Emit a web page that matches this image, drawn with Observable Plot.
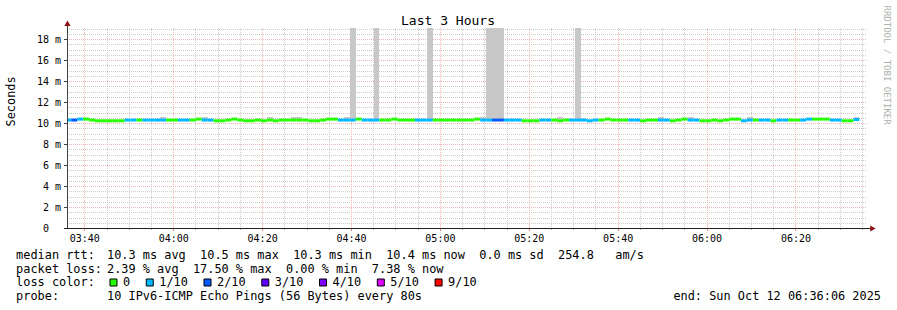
<!DOCTYPE html>
<html><head><meta charset="utf-8">
<script src="https://cdn.jsdelivr.net/npm/d3@7"></script>
<script src="https://cdn.jsdelivr.net/npm/@observablehq/plot@0.6"></script>
<style>
html,body{margin:0;padding:0;background:#fff;}
svg text{white-space:pre;}
</style></head><body><div id="chart"></div>
<script>
// ---- data ----
const titleText = "Last 3 Hours";
const xTickLabels = ["03:40","04:00","04:20","04:40","05:00","05:20","05:40","06:00","06:20"];
const yTicks = [0,2,4,6,8,10,12,14,16,18];
const lossCounts = [0,1,2,3,4,5,9];
const lossLabels = ["0","1/10","2/10","3/10","4/10","5/10","9/10"];
const lossColors = ["#26ff00","#00b8ff","#0059ff","#5e00ff","#7e00ff","#dd00ff","#ff0000"];
// loss per 80 s step (pings lost out of 10)
const lossLevel = [
 1,2,1,0,0,0,0,0,0,0,
 1,1,0,1,1,1,1,0,0,1,
 1,0,0,1,1,0,0,0,0,0,
 0,0,0,0,0,0,0,0,0,0,
 0,0,0,0,0,0,1,1,1,0,
 1,1,1,0,0,0,0,0,0,1,
 1,1,0,0,0,0,0,0,0,0,
 1,1,2,2,1,1,1,0,0,0,
 1,1,0,0,0,1,1,1,1,1,
 0,0,0,0,0,1,1,0,0,0,
 1,1,0,0,0,1,1,0,0,0,
 0,0,0,0,1,1,0,1,1,0,
 1,1,0,0,1,1,0,0,0,1,
 1,0,0,1];
// median rtt per step, ms
const medianRtt = [
 10.33,10.33,10.42,10.42,10.33,10.26,10.26,10.26,10.26,10.26,
 10.33,10.33,10.33,10.33,10.33,10.33,10.33,10.33,10.33,10.33,
 10.33,10.33,10.42,10.33,10.33,10.26,10.26,10.33,10.42,10.33,
 10.26,10.26,10.33,10.26,10.33,10.26,10.33,10.33,10.33,10.33,
 10.33,10.26,10.26,10.33,10.42,10.42,10.33,10.33,10.33,10.42,
 10.33,10.33,10.33,10.33,10.33,10.42,10.33,10.33,10.33,10.33,
 10.33,10.33,10.33,10.33,10.33,10.33,10.33,10.33,10.33,10.42,
 10.33,10.33,10.33,10.33,10.33,10.33,10.33,10.26,10.26,10.26,
 10.33,10.33,10.33,10.26,10.33,10.33,10.33,10.33,10.26,10.33,
 10.33,10.42,10.33,10.33,10.33,10.33,10.33,10.26,10.33,10.33,
 10.33,10.33,10.26,10.33,10.42,10.33,10.33,10.26,10.26,10.33,
 10.26,10.33,10.42,10.42,10.26,10.33,10.33,10.33,10.33,10.26,
 10.33,10.33,10.33,10.33,10.33,10.42,10.42,10.42,10.42,10.33,
 10.33,10.26,10.26,10.38];
// smoke (max ping rtt) where it shows above the median
const smokeSteps = [16,23,34,38,39,47,48,52,61,70,71,72,73,83,86,100,105,115,133];
const smokeMax   = [10.62,10.62,10.62,10.62,10.62,10.6,40,40,40,10.62,40,40,40,10.6,40,10.6,10.6,10.6,10.6];
const rttStats = "10.3 ms avg  10.5 ms max  10.3 ms min  10.4 ms now  0.0 ms sd  254.8   am/s";
const lossStats = "2.39 % avg  17.50 % max  0.00 % min  7.38 % now";
const probeText = "10 IPv6-ICMP Echo Pings (56 Bytes) every 80s";
const endText = "end: Sun Oct 12 06:36:06 2025";
const rowLabels = ["median rtt:","packet loss:","loss color:","probe:"];
const yLabel = "Seconds";
const watermark = "RRDTOOL / TOBI OETIKER";

// ---- derived ----
const xDomain = [new Date("2025-10-12T03:36:06Z"), new Date("2025-10-12T06:36:06Z")];
const stepStart = new Date("2025-10-12T03:35:44Z");
const stepMs = 80000;
const steps = medianRtt.map((v, i) => ({
  t0: new Date(+stepStart + i * stepMs),
  t1: new Date(+stepStart + (i + 1) * stepMs),
  v,
  color: lossColors[lossCounts.indexOf(lossLevel[i])]
}));
const smoke = smokeSteps.map((k, j) => ({t0: steps[k].t0, t1: steps[k].t1, lo: steps[k].v, hi: smokeMax[j]}));
const xMajor = xTickLabels.map(s => new Date(`2025-10-12T${s}:00Z`));
const xMinor = d3.utcMinute.every(5).range(xDomain[0], xDomain[1]).filter(d => d.getUTCMinutes() % 20 !== 0);
const yMinor = d3.range(0.5, 19.05, 0.5).filter(v => v % 2 !== 0);
const nb = s => s.replace(/ /g, "\u00a0");

const W = 897, H = 310, ML = 67, MR = 30, MT = 28, MB = 82;
const FW = W - ML - MR, FH = H - MT - MB;
const LF = 11.9, CW = 7.165;
const rowY = i => 258.3 + 13.8 * i - (H - MB);   // dy from frame bottom
const legX = 15.6 - ML, valX = 106.5 - ML;

// swatch positions
let sx = 109; const swatchX = [];
lossLabels.forEach(l => { swatchX.push(sx); sx += 14 + l.length * CW + 15.1; });

const crisp = {shapeRendering: "crispEdges"};
const marks = [
  Plot.gridX(xMinor, {stroke: "#cccccc", strokeOpacity: 1, strokeDasharray: "1,1", ...crisp}),
  Plot.gridY(yMinor, {stroke: "#cccccc", strokeOpacity: 1, strokeDasharray: "1,1", ...crisp}),
  Plot.gridX(xMajor, {stroke: "#f6b4b4", strokeOpacity: 1, strokeDasharray: "1,1", ...crisp}),
  Plot.gridY(yTicks.filter(d => d > 0), {stroke: "#ecb4b4", strokeOpacity: 1, strokeDasharray: "1,1", ...crisp}),
  Plot.rectY(smoke, {x1: "t0", x2: "t1", y1: "lo", y2: "hi", fill: "#c8c8c8", clip: true, ...crisp}),
  Plot.ruleY(steps, {y: "v", x1: "t0", x2: "t1", stroke: "color", strokeWidth: 3, clip: true}),
  // axis ticks
  Plot.ruleX(xMinor, {stroke: "#b4b4b4", insetTop: FH, insetBottom: -2, ...crisp}),
  Plot.ruleX(xMajor, {stroke: "#f08080", insetTop: FH, insetBottom: -3, ...crisp}),
  Plot.ruleY(yTicks, {stroke: "#404040", insetLeft: -3, insetRight: FW, ...crisp}),
  // axis lines
  Plot.ruleX([xDomain[0]], {stroke: "#404040", insetTop: -6, ...crisp}),
  Plot.ruleY([0], {stroke: "#202020", insetLeft: -3, insetRight: -3, ...crisp}),
  Plot.dot([0], {frameAnchor: "top-left", symbol: "triangle", r: 2.3, fill: "#8b1010", dy: -4.3}),
  Plot.dot([0], {frameAnchor: "bottom-right", symbol: "triangle", r: 2.3, fill: "#8b1010", rotate: 90, dx: 4.5}),
  Plot.axisX(xMajor, {tickFormat: d3.utcFormat("%H:%M"), tickSize: 0, tickPadding: 6, fontSize: 10, label: null}),
  Plot.axisY(yTicks, {tickFormat: d => d === 0 ? "0\u00a0\u00a0" : d + "\u00a0m", tickSize: 0, tickPadding: 6.5, fontSize: 10, label: null}),
  // title, y label, watermark
  Plot.text([titleText], {text: d => d, frameAnchor: "top-left", dx: 447.5 - ML, dy: 24.5 - MT, lineAnchor: "bottom", textAnchor: "middle", fontSize: 13}),
  Plot.text([yLabel], {text: d => d, frameAnchor: "left", rotate: -90, dx: 11 - ML, dy: -2, fontSize: LF}),
  Plot.text([watermark], {text: d => d, frameAnchor: "top-right", rotate: 90, dx: 890 - (ML + FW), dy: 5 - MT, textAnchor: "start", fontSize: 9, fill: "#b0b0b0"}),
  // legend rows
  ...rowLabels.map((t, i) => Plot.text([t], {text: d => nb(d), frameAnchor: "bottom-left", dx: legX, dy: rowY(i), lineAnchor: "bottom", textAnchor: "start", fontSize: LF})),
  Plot.text([rttStats], {text: d => nb(d), frameAnchor: "bottom-left", dx: valX, dy: rowY(0), lineAnchor: "bottom", textAnchor: "start", fontSize: LF}),
  Plot.text([lossStats], {text: d => nb(d), frameAnchor: "bottom-left", dx: valX, dy: rowY(1), lineAnchor: "bottom", textAnchor: "start", fontSize: LF}),
  Plot.text([probeText], {text: d => nb(d), frameAnchor: "bottom-left", dx: valX, dy: rowY(3), lineAnchor: "bottom", textAnchor: "start", fontSize: LF}),
  Plot.text([endText], {text: d => nb(d), frameAnchor: "bottom-left", dx: 880.5 - ML, dy: rowY(3), lineAnchor: "bottom", textAnchor: "end", fontSize: LF}),
  ...lossLabels.map((l, i) => Plot.dot([l], {frameAnchor: "bottom-left", symbol: "square", r: 3.95, fill: lossColors[i], stroke: "#000", strokeWidth: 1, dx: swatchX[i] + 4 - ML, dy: 282 - (H - MB)})),
  ...lossLabels.map((l, i) => Plot.text([l], {text: d => d, frameAnchor: "bottom-left", dx: swatchX[i] + 13.5 - ML, dy: rowY(2), lineAnchor: "bottom", textAnchor: "start", fontSize: LF}))
];

const chart = Plot.plot({
  width: W, height: H,
  marginLeft: ML, marginRight: MR, marginTop: MT, marginBottom: MB,
  x: {type: "utc", domain: xDomain},
  y: {domain: [0, 19.05]},
  color: {type: "identity"},
  style: {fontFamily: "'DejaVu Sans Mono', monospace", fontSize: "10px", background: "#fff", color: "#000", overflow: "visible"},
  marks
});
document.getElementById("chart").appendChild(chart);
</script></body></html>
